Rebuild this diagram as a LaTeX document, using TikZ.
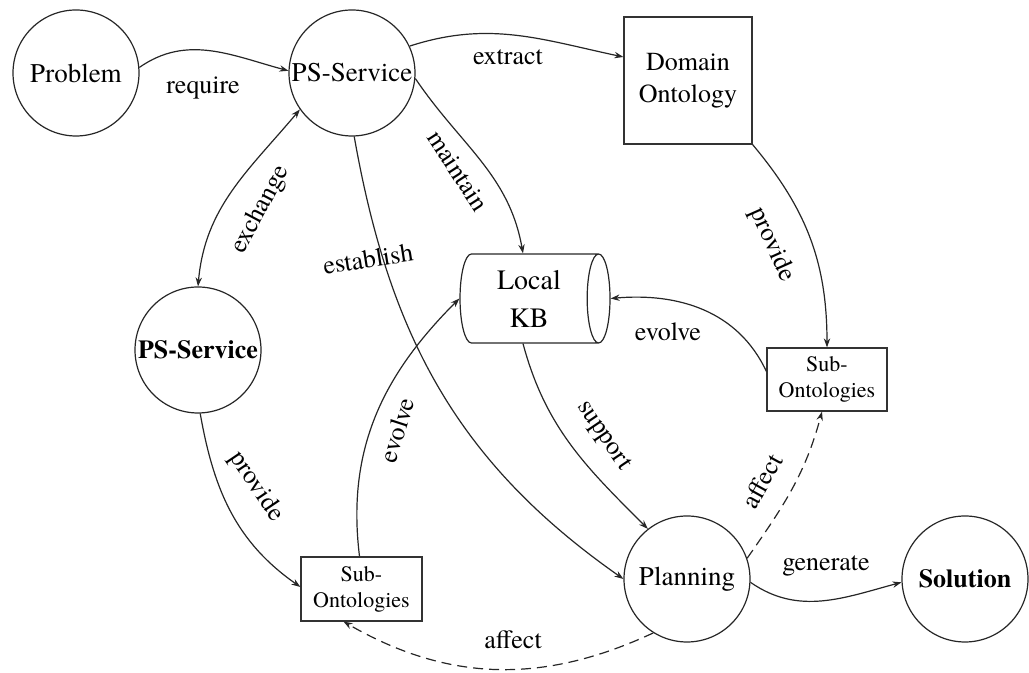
\documentclass[tikz,border=0pt]{standalone}
\usepackage{fontspec}
\setmainfont{texgyretermes}[Extension=.otf,UprightFont=*-regular,BoldFont=*-bold,ItalicFont=*-italic,BoldItalicFont=*-bolditalic]
\usetikzlibrary{shapes.geometric,arrows.meta}
\begin{document}
\begin{tikzpicture}[x=0.5pt,y=0.5pt,
  every node/.style={inner sep=0pt},
  conn/.style={draw=black!85,line width=0.6pt,-{Stealth[length=4.5pt,width=3.2pt]}},
  both/.style={draw=black!85,line width=0.6pt,{Stealth[length=4.5pt,width=3.2pt]}-{Stealth[length=4.5pt,width=3.2pt]}},
  weak/.style={conn,dash pattern=on 5pt off 3pt},
  state/.style={circle,draw=black!85,line width=0.6pt,minimum size=63pt,font=\fontsize{13.5}{16}\selectfont},
  strongstate/.style={state,font=\fontsize{13}{16}\bfseries\selectfont},
  onto/.style={rectangle,draw=black!80,line width=0.6pt,align=center},
  lbl/.style={font=\fontsize{13}{15}\selectfont}
]
\useasboundingbox (0,0) rectangle (1029,673);

% nodes
\node[state] (prob) at (76,600) {Problem};
\node[state] (ps1) at (352,600) {PS-Service};
\node[state,strongstate] (ps2) at (198,323) {PS-Service};
\node[state] (plan) at (687,94) {Planning};
\node[state,strongstate] (sol) at (965,94) {Solution};
\node[onto,minimum width=64pt,minimum height=63.5pt,font=\fontsize{13}{16}\selectfont] (dom) at (688,592.5) {Domain\\Ontology};
\node[onto,minimum width=60.5pt,minimum height=32pt,font=\fontsize{11}{13}\selectfont] (subl) at (361.5,84) {Sub-\\Ontologies};
\node[onto,minimum width=60pt,minimum height=31.5pt,font=\fontsize{11}{13}\selectfont] (subr) at (827,293.5) {Sub-\\Ontologies};
\node[cylinder,draw=black!85,line width=0.6pt,minimum width=44.5pt,minimum height=75pt,aspect=0.4,align=center,font=\fontsize{14}{19}\selectfont] (kb) at (529,374.5) {Local\\KB};

% connectors
\draw[conn] (prob.5) to[out=35,in=165] (ps1.178);
\node[lbl] at (203,585) {require};

\draw[conn] (ps1.25) to[out=18,in=168] (dom.160);
\node[lbl] at (508,616) {extract};

\draw[conn] (ps1.-5) to[out=-56,in=100] ([xshift=-3pt]kb.north);
\node[lbl,rotate=-57] at (458,502) {maintain};

\draw[conn] (ps1.-88) to[out=-80,in=145] (plan.180);
\node[lbl,rotate=9] at (368,414) {establish};

\draw[both] (ps1.215) to[out=230,in=85] (ps2.north);
\node[lbl,rotate=62] at (261,463) {exchange};

\draw[conn] (ps2.-88) to[out=-80,in=145] ([yshift=1pt]subl.west);
\node[lbl,rotate=-56] at (256,186) {provide};

\draw[conn] ([xshift=-1pt]subl.north) to[out=97,in=225] (kb.west);
\node[lbl,rotate=72] at (397,243) {evolve};

\draw[conn] (dom.south east) to[out=-50,in=90] (subr.north);
\node[lbl,rotate=-66] at (772,428) {provide};

\draw[conn] ([yshift=4pt]subr.west) to[out=115,in=5] (kb.east);
\node[lbl] at (668,341) {evolve};

\draw[conn] ([xshift=-3pt]kb.south) to[out=-75,in=135] (plan.128);
\node[lbl,rotate=-56] at (603,237) {support};

\draw[weak] (plan.19) to[out=55,in=-105] ([xshift=-2.5pt]subr.south);
\node[lbl,rotate=61] at (762,192) {affect};

\draw[weak] (plan.238) to[out=205,in=-30] ([xshift=-9pt]subl.south);
\node[lbl] at (513,33) {affect};

\draw[conn] (plan.-3) to[out=-35,in=195] (sol.183);
\node[lbl] at (826,107) {generate};
\end{tikzpicture}
\end{document}
